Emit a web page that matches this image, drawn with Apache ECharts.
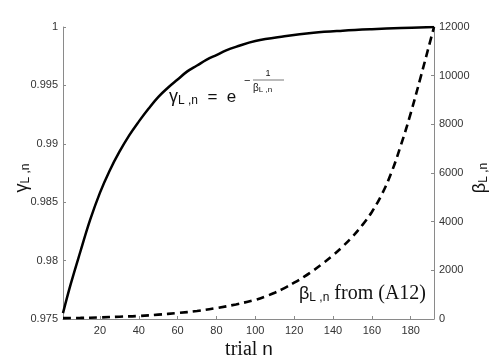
<!DOCTYPE html>
<html>
<head>
<meta charset="utf-8">
<script src="https://cdn.jsdelivr.net/npm/echarts@6/dist/echarts.min.js"></script>
<style>html,body{margin:0;padding:0;background:#fff;}#c{width:490px;height:364px;}</style>
</head>
<body>
<div id="c"></div>
<script>
// trial index n and gamma values (left axis)
var gammaN = [1, 5, 10, 15, 20, 25, 30, 35, 40, 45, 50, 55, 60, 65, 70, 75, 80, 85, 90, 100, 115, 130, 145, 160, 175, 192];
var gammaVals = [0.9755, 0.9780, 0.9808, 0.9835, 0.9858, 0.9877, 0.9893, 0.9907, 0.9919, 0.9930, 0.9940, 0.9948, 0.9955, 0.9962, 0.9967, 0.9972, 0.9976, 0.9980, 0.9983, 0.9988, 0.9992, 0.99950, 0.99968, 0.99981, 0.99991, 0.99999];
// trial index n and beta values (right axis)
var betaN = [1, 10, 20, 30, 40, 50, 60, 70, 80, 90, 100, 105, 110, 115, 120, 125, 130, 135, 140, 145, 150, 155, 160, 165, 170, 175, 180, 185, 190, 192];
var betaVals = [35, 45, 65, 95, 125, 180, 245, 330, 450, 600, 790, 920, 1080, 1270, 1490, 1730, 2000, 2300, 2620, 2980, 3380, 3850, 4400, 5100, 6000, 7150, 8450, 9900, 11400, 12000];
var xTicks = [20, 40, 60, 80, 100, 120, 140, 160, 180];
var leftTicks = [0.975, 0.98, 0.985, 0.99, 0.995, 1];
var rightTicks = [0, 2000, 4000, 6000, 8000, 10000, 12000];

var axisGrey = '#8a8a8a';
var labelCol = '#333';
var sans = 'Liberation Sans, Arial, sans-serif';
var serif = 'Liberation Serif, Times New Roman, serif';

function pairs(xs, ys) { return xs.map(function (x, i) { return [x, ys[i]]; }); }

var chart = echarts.init(document.getElementById('c'), null, {renderer: 'canvas'});
chart.setOption({
  animation: false,
  backgroundColor: '#fff',
  grid: {left: 63, top: 27, right: 56, bottom: 45, containLabel: false},
  xAxis: {
    type: 'value', min: 1, max: 192,
    axisLine: {show: true, lineStyle: {color: axisGrey, width: 1}},
    axisTick: {show: true, inside: true, length: 3, lineStyle: {color: axisGrey}, customValues: xTicks},
    axisLabel: {color: labelCol, fontSize: 11, fontFamily: sans, margin: 6, customValues: xTicks, formatter: function (v) { return String(v); }},
    splitLine: {show: false}
  },
  yAxis: [{
    type: 'value', min: 0.975, max: 1, position: 'left',
    axisLine: {show: true, lineStyle: {color: axisGrey, width: 1}},
    axisTick: {show: true, inside: true, length: 3, lineStyle: {color: axisGrey}, customValues: leftTicks},
    axisLabel: {color: labelCol, fontSize: 11, fontFamily: sans, margin: 5, customValues: leftTicks, formatter: function (v) { return String(+v.toFixed(3)); }},
    splitLine: {show: false}
  }, {
    type: 'value', min: 0, max: 12000, position: 'right',
    axisLine: {show: true, lineStyle: {color: axisGrey, width: 1}},
    axisTick: {show: true, inside: true, length: 3, lineStyle: {color: axisGrey}, customValues: rightTicks},
    axisLabel: {color: labelCol, fontSize: 11, fontFamily: sans, margin: 5, customValues: rightTicks, formatter: function (v) { return String(v); }},
    splitLine: {show: false}
  }],
  series: [{
    type: 'line', yAxisIndex: 0, data: pairs(gammaN, gammaVals), smooth: 0.4,
    showSymbol: false, lineStyle: {color: '#000', width: 2.5}
  }, {
    type: 'line', yAxisIndex: 1, data: pairs(betaN, betaVals), smooth: 0.4,
    showSymbol: false, lineStyle: {color: '#000', width: 2.6, type: [8, 5]}
  }],
  graphic: [
    // left axis title
    {type: 'text', x: 22, y: 178, rotation: Math.PI / 2,
      style: {text: '{g|γ}{s|L ,n}', align: 'center', verticalAlign: 'middle', fill: '#111',
        rich: {g: {fontSize: 18, fontFamily: sans, lineHeight: 20, fill: '#111'},
               s: {fontSize: 12, fontFamily: sans, lineHeight: 13, verticalAlign: 'bottom', fill: '#111'}}}},
    // right axis title
    {type: 'text', x: 480, y: 178, rotation: Math.PI / 2,
      style: {text: '{g|β}{s|L ,n}', align: 'center', verticalAlign: 'middle', fill: '#111',
        rich: {g: {fontSize: 18, fontFamily: sans, lineHeight: 20, fill: '#111'},
               s: {fontSize: 12, fontFamily: sans, lineHeight: 13, verticalAlign: 'bottom', fill: '#111'}}}},
    // x axis title
    {type: 'text', x: 249, y: 350,
      style: {text: '{a|trial }{b|n}', align: 'center', verticalAlign: 'middle',
        rich: {a: {fontSize: 20, fontFamily: serif, fill: '#111'}, b: {fontSize: 19, fontFamily: sans, fill: '#111'}}}},
    // gamma formula annotation
    {type: 'text', x: 169, y: 97,
      style: {text: '{g|γ}{s|L ,n}{e|  =  e}', align: 'left', verticalAlign: 'middle',
        rich: {g: {fontSize: 18, fontFamily: sans, lineHeight: 20, fill: '#111'},
               s: {fontSize: 12, fontFamily: sans, lineHeight: 13, verticalAlign: 'bottom', fill: '#111'},
               e: {fontSize: 17, fontFamily: sans, lineHeight: 20, fill: '#111'}}}},
    {type: 'text', x: 244, y: 81, style: {text: '−', fontSize: 11, fontFamily: sans, fill: '#111', align: 'left', verticalAlign: 'middle'}},
    {type: 'text', x: 268, y: 74, style: {text: '1', fontSize: 9, fontFamily: sans, fill: '#111', align: 'center', verticalAlign: 'middle'}},
    {type: 'line', shape: {x1: 253, y1: 80, x2: 284, y2: 80}, style: {stroke: '#555', lineWidth: 0.8}},
    {type: 'text', x: 253, y: 88,
      style: {text: '{g|β}{s|L ,n}', align: 'left', verticalAlign: 'middle',
        rich: {g: {fontSize: 10, fontFamily: sans, fill: '#111', lineHeight: 11}, s: {fontSize: 8, fontFamily: sans, fill: '#111', lineHeight: 9, verticalAlign: 'bottom'}}}},
    // beta annotation
    {type: 'text', x: 299, y: 294,
      style: {text: '{g|β}{s|L ,n}{f| from (A12)}', align: 'left', verticalAlign: 'middle',
        rich: {g: {fontSize: 18, fontFamily: sans, lineHeight: 20, fill: '#111'},
               s: {fontSize: 12, fontFamily: sans, lineHeight: 13, verticalAlign: 'bottom', fill: '#111'},
               f: {fontSize: 20, fontFamily: serif, lineHeight: 20, fill: '#111'}}}}
  ]
});
</script>
</body>
</html>
